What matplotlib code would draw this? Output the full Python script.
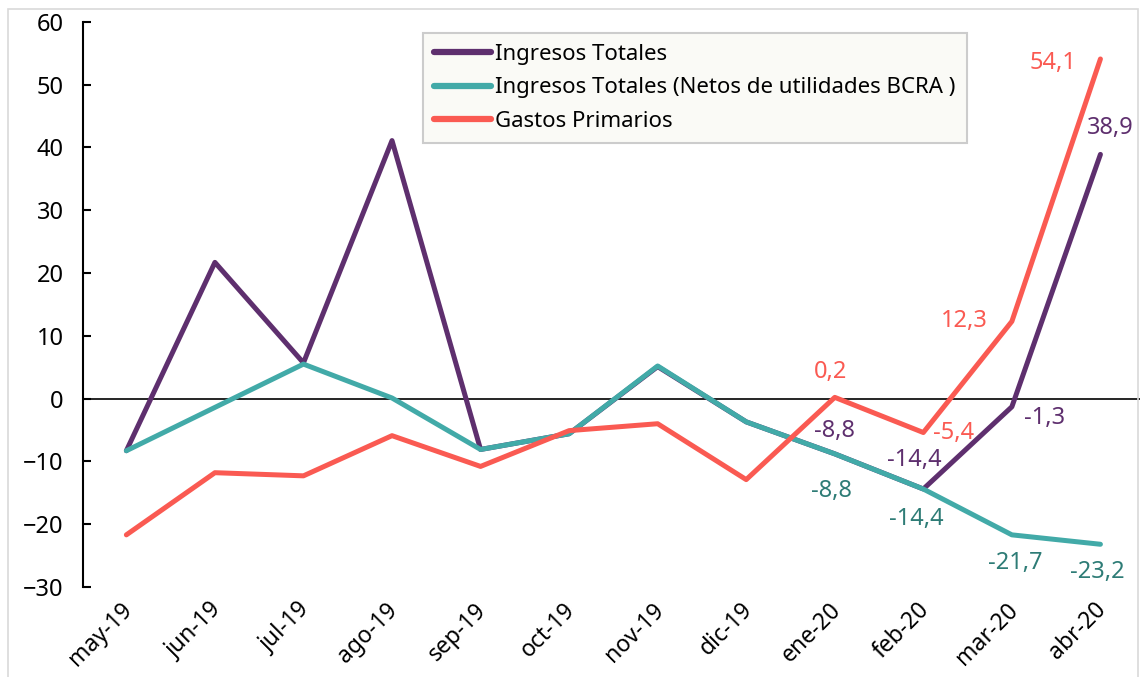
import matplotlib
matplotlib.use("Agg")
import matplotlib.pyplot as plt
import matplotlib.transforms as mtrans
from matplotlib.patches import Rectangle

plt.rcParams["font.family"] = ["Noto Sans", "DejaVu Sans"]

months = ["may-19", "jun-19", "jul-19", "ago-19", "sep-19", "oct-19",
          "nov-19", "dic-19", "ene-20", "feb-20", "mar-20", "abr-20"]
ingresos = [-8.3, 21.7, 5.7, 41.1, -8.1, -5.6, 5.1, -3.7, -8.8, -14.4, -1.3, 38.9]
ingresos_netos = [-8.3, -1.4, 5.5, 0.1, -8.1, -5.6, 5.2, -3.7, -8.8, -14.4, -21.7, -23.2]
gastos = [-21.7, -11.8, -12.3, -5.9, -10.8, -5.1, -4.0, -12.9, 0.2, -5.4, 12.3, 54.1]

PURPLE = "#5E2F6E"
TEAL = "#42AAA8"
TEAL_TXT = "#2E7C76"
RED = "#FA5A52"

fig = plt.figure(figsize=(11.46, 6.77), dpi=100)
ax = fig.add_axes([0.0724, 0.133, 0.9226, 0.8346])

x = range(len(months))
ax.plot(x, ingresos, color=PURPLE, lw=3.6, label="Ingresos Totales", solid_capstyle="round")
ax.plot(x, ingresos_netos, color=TEAL, lw=3.6,
        label="Ingresos Totales (Netos de utilidades BCRA )", solid_capstyle="round")
ax.plot(x, gastos, color=RED, lw=3.6, label="Gastos Primarios", solid_capstyle="round")

ax.axhline(0, color="black", lw=1.2, zorder=1)

ax.set_xlim(-0.49, 11.45)
ax.set_ylim(-30, 60)
ax.set_yticks(range(-30, 61, 10))
ax.set_xticks(list(x))
ax.set_xticklabels(months, rotation=45, ha="right", rotation_mode="anchor")

for side in ["top", "right", "bottom"]:
    ax.spines[side].set_visible(False)
ax.spines["left"].set_linewidth(1.5)
ax.tick_params(axis="y", direction="in", length=6, width=1.5, labelsize=17, pad=14)
ax.tick_params(axis="x", length=0, labelsize=16.5, pad=8)

shift = mtrans.ScaledTranslation(-6 / 100, 0, fig.dpi_scale_trans)
for lbl in ax.get_xticklabels():
    lbl.set_transform(lbl.get_transform() + shift)

# data labels: (series, index, dx, dy, color) in pixels
labels = [
    (gastos, 8, -4, 25, RED),
    (gastos, 9, 30, 0, RED),
    (gastos, 10, -48, 0, RED),
    (gastos, 11, -47, -4, RED),
    (ingresos, 8, 0, 23, PURPLE),
    (ingresos, 9, -9, 29, PURPLE),
    (ingresos, 10, 33, -11, PURPLE),
    (ingresos, 11, 10, 26, PURPLE),
    (ingresos_netos, 8, -3, -37, TEAL_TXT),
    (ingresos_netos, 9, -7, -30, TEAL_TXT),
    (ingresos_netos, 10, 3, -28, TEAL_TXT),
    (ingresos_netos, 11, -3, -28, TEAL_TXT),
]
for series, i, dx, dy, col in labels:
    ax.annotate(f"{series[i]:.1f}".replace(".", ","), (i, series[i]),
                xytext=(dx, dy), textcoords="offset pixels",
                ha="center", va="center", fontsize=17, color=col)

leg = ax.legend(loc="upper left", bbox_to_anchor=(0.3217, 0.9805), fontsize=16,
                frameon=True, fancybox=False, handlelength=2.55, handletextpad=0.2,
                borderpad=0.5, labelspacing=0.55, borderaxespad=0)
leg.get_frame().set_facecolor("#FAFAF6")
leg.get_frame().set_edgecolor("#CCCCCC")
leg.get_frame().set_linewidth(1.5)
leg.get_frame().set_alpha(1)
for line in leg.get_lines():
    line.set_linewidth(4.5)

fig.patches.append(Rectangle((8 / 1146, -0.1), 1130 / 1146, 1 - 9 / 677 + 0.1,
                             transform=fig.transFigure, fill=False,
                             edgecolor="#D9D9D9", lw=1.2))

fig.savefig("out.png", dpi=100)
